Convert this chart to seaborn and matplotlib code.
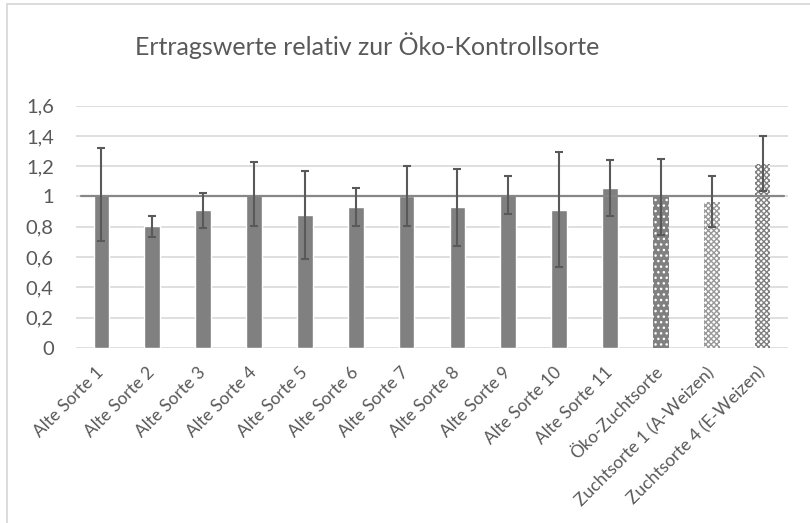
import pandas as pd
import numpy as np
import matplotlib.pyplot as plt
import seaborn as sns
from matplotlib.patches import Rectangle
from matplotlib.ticker import FuncFormatter

sns.set_theme(style="white")
plt.rcParams['font.family'] = ['Lato', 'DejaVu Sans']
plt.rcParams['hatch.linewidth'] = 1.0

# values
sorten = ['Alte Sorte 1', 'Alte Sorte 2', 'Alte Sorte 3', 'Alte Sorte 4', 'Alte Sorte 5',
          'Alte Sorte 6', 'Alte Sorte 7', 'Alte Sorte 8', 'Alte Sorte 9', 'Alte Sorte 10',
          'Alte Sorte 11', 'Öko-Zuchtsorte', 'Zuchtsorte 1 (A-Weizen)', 'Zuchtsorte 4 (E-Weizen)']
ertrag = [1.012, 0.802, 0.908, 1.016, 0.875, 0.932, 1.005, 0.928, 1.007, 0.912,
          1.056, 0.997, 0.965, 1.217]
fehler = [0.305, 0.07, 0.115, 0.212, 0.29, 0.125, 0.197, 0.253, 0.125, 0.38,
          0.183, 0.253, 0.168, 0.181]
kontrolle = 1.0
yticks = [0, 0.2, 0.4, 0.6, 0.8, 1.0, 1.2, 1.4, 1.6]

df = pd.DataFrame({'sorte': sorten, 'ertrag': ertrag, 'fehler': fehler})

text_col = '#595959'
bar_col = '#808080'

fig = plt.figure(figsize=(8.1, 5.23), dpi=100)
ax = fig.add_axes([0.0938, 0.335, 0.879, 0.463])

sns.barplot(data=df, x='sorte', y='ertrag', color=bar_col, width=0.31,
            saturation=1, errorbar=None, ax=ax, zorder=2)

# patterned bars for the modern varieties
patches = ax.patches
patches[11].set_hatch('...')
patches[11].set_edgecolor('white')
patches[11].set_linewidth(0)
for i in (12, 13):
    patches[i].set_facecolor('white')
    patches[i].set_hatch('xxxxxx')
    patches[i].set_edgecolor('#999999' if i == 12 else '#808080')
    patches[i].set_linewidth(0)

# error bars at the bar centres
xs = [p.get_x() + p.get_width() / 2 for p in patches]
ax.errorbar(xs, df['ertrag'], yerr=df['fehler'], fmt='none', ecolor=text_col,
            elinewidth=1.5, capsize=3, capthick=1.5, zorder=4)

# reference line of the control variety
ax.axhline(kontrolle, xmin=0.007, xmax=0.994, color='#878787', lw=1.6, zorder=3)

ax.set_ylim(0, 1.6)
ax.set_xlim(-0.5, len(sorten) - 0.5)
ax.set_yticks(yticks)
ax.yaxis.set_major_formatter(FuncFormatter(lambda v, pos: f'{v:g}'.replace('.', ',')))
ax.yaxis.grid(True, color='#d9d9d9', lw=1.2, zorder=0)
ax.set_axisbelow(True)
for s in ax.spines.values():
    s.set_visible(False)
ax.tick_params(axis='y', length=0, pad=16, labelsize=14.5, labelcolor=text_col)
ax.tick_params(axis='x', length=0, pad=16, labelsize=12.5, labelcolor=text_col)
plt.setp(ax.get_xticklabels(), rotation=45, ha='right', va='center', rotation_mode='anchor')
ax.set_xlabel('')
ax.set_ylabel('')

fig.text(0.453, 0.913, 'Ertragswerte relativ zur Öko-Kontrollsorte', ha='center', va='center',
         fontsize=18, color=text_col)

# chart frame
fig.patches.append(Rectangle((6.5 / 810, -0.1), 1.2, (523 - 4) / 523 + 0.1,
                             transform=fig.transFigure, fill=False, ec='#d9d9d9', lw=1.3))

plt.savefig('out.png', dpi=100)
